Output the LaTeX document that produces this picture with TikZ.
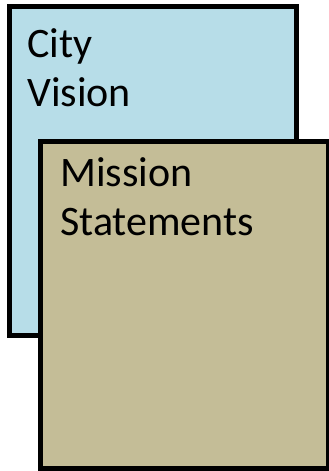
\documentclass[tikz,border=0pt]{standalone}
\usepackage{fontspec}
\setmainfont{Carlito}
\definecolor{visionblue}{RGB}{183,221,232}
\definecolor{missiontan}{RGB}{196,189,151}
\begin{document}
\begin{tikzpicture}[x=1pt,y=1pt,
  card/.style={draw=black,line width=5pt},
  cardtext/.style={anchor=base west,inner sep=0pt,align=left,
    font=\fontsize{42}{49}\selectfont}]
\useasboundingbox (0,0) rectangle (329,471);
\path[card,fill=visionblue] (9.5,464.5) rectangle (296.5,135) coordinate (visionbox);
\node[cardtext] (vision) at (27,364) {City\\Vision};
\path[card,fill=missiontan] (40.5,329.5) rectangle (328.5,2.5) coordinate (missionbox);
\node[cardtext] (mission) at (60,235) {Mission\\Statements};
\end{tikzpicture}
\end{document}
